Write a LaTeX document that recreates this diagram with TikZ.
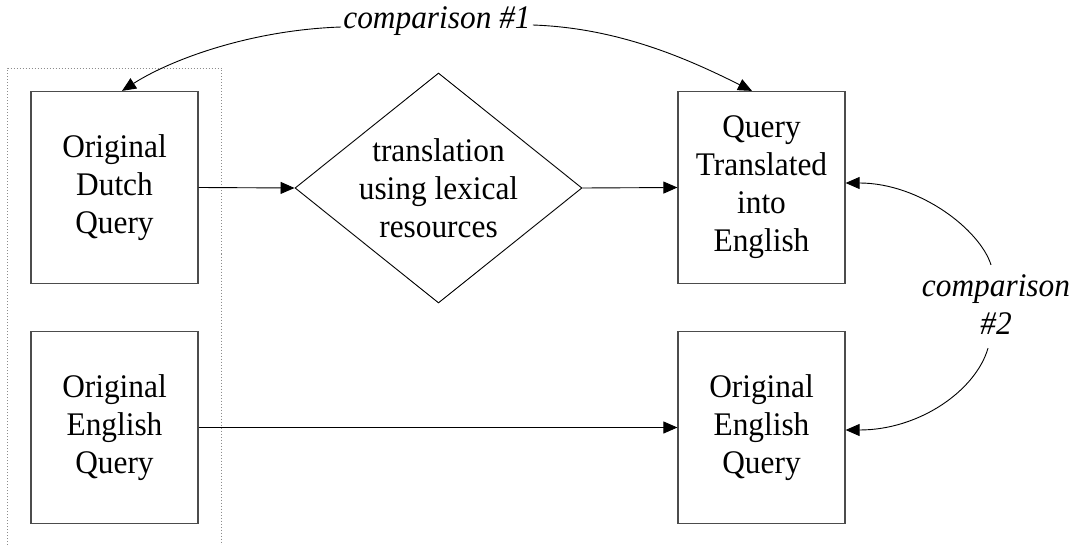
\documentclass[tikz,border=0pt]{standalone}
\usepackage{fontspec}
\setmainfont[FakeStretch=0.95]{Liberation Serif}
\usetikzlibrary{arrows.meta,shapes.geometric,calc}
\begin{document}
\begin{tikzpicture}[x=1pt,y=-1pt,
  txt/.style={font=\fontsize{33}{38}\selectfont,align=center},
  qbox/.style={txt,draw=black!70,line width=1.2pt,minimum width=167pt,minimum height=192pt,inner sep=0pt},
  dia/.style={txt,draw=black,line width=0.9pt,shape=diamond,aspect=1.25,minimum width=287pt,minimum height=230pt,inner sep=0pt},
  lbl/.style={txt,font=\fontsize{33}{38}\selectfont\itshape,inner sep=2pt},
  conn/.style={draw=black,line width=0.9pt,-{Triangle[length=14pt,width=12pt]}},
  group/.style={draw=black!45,line width=0.8pt,dash pattern=on 1pt off 2pt}
]
\useasboundingbox (0,0) rectangle (1075,545);
% group frame
\draw[group] (7.5,545) -- (7.5,68) -- (221,68) -- (221,545);
% nodes
\node[qbox] (dq) at (114.5,187.5) {Original\\Dutch\\Query};
\node[qbox] (eqL) at (114.5,427.5) {Original\\English\\Query};
\node[dia] (tl) at (438.5,188) {translation\\using lexical\\resources};
\node[qbox] (tr) at (761.5,187.5) {Query\\Translated\\into\\English};
\node[qbox] (eqR) at (761.5,427.5) {Original\\English\\Query};
\node[lbl,anchor=base] (c1) at (437,29) {comparison \#1};
\node[lbl] (c2) at (996,305) {comparison\\\#2};
% free ends
\coordinate (c1w) at ($(c1.base west)+(0,-2)$);
\coordinate (c1e) at ($(c1.base east)+(0,-4)$);
\coordinate (c2n) at ($(c2.north)+(-5,-8)$);
\coordinate (c2s) at ($(c2.south)+(-8,11)$);
% connectors
\draw[conn] (dq.east) -- (tl.west);
\draw[conn] (tl.east) -- (tr.west);
\draw[conn] (eqL.east) -- (eqR.west);
\draw[conn] (c1w) .. controls (250,30) and (170,60) .. ($(dq.north)+(7.5,0)$);
\draw[conn] (c1e) .. controls (620,28) and (690,60) .. ($(tr.north)+(-9.5,0)$);
\draw[conn] (c2n) .. controls (980,230) and (920,183) .. ($(tr.east)+(0,-4.5)$);
\draw[conn] (c2s) .. controls (976,390) and (920,430) .. ($(eqR.east)+(0,2.5)$);
\end{tikzpicture}
\end{document}
